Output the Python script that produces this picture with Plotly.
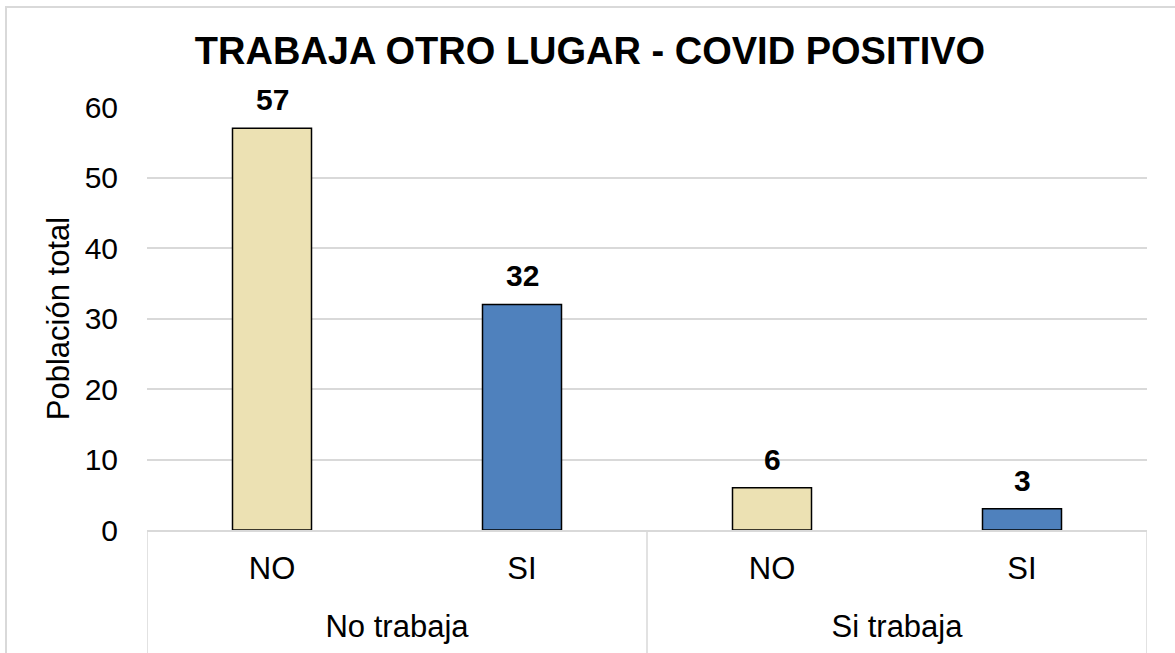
import plotly.graph_objects as go

# Datos
grupos = ["No trabaja", "No trabaja", "Si trabaja", "Si trabaja"]
covid = ["NO", "SI", "NO", "SI"]
poblacion = [57, 32, 6, 3]
colores = ["#ECE1B3", "#4F81BD", "#ECE1B3", "#4F81BD"]
y_ticks = [0, 10, 20, 30, 40, 50, 60]

FONT = "Liberation Sans, Arial, sans-serif"
GRID = "#D9D9D9"
BLACK = "#000000"

# posiciones de categoría (una por barra) y de cada grupo
pos = list(range(len(covid)))
nombres_grupo = list(dict.fromkeys(grupos))
centros_grupo = []
limites = [-0.5]
for g in nombres_grupo:
    idx = [i for i, gg in enumerate(grupos) if gg == g]
    centros_grupo.append(sum(idx) / len(idx))
    limites.append(max(idx) + 0.5)

fig = go.Figure()
fig.add_trace(go.Bar(
    x=pos,
    y=poblacion,
    marker=dict(color=colores, line=dict(color=BLACK, width=1.5)),
    width=0.316,
    showlegend=False,
    hovertext=[f"{g} - {c}" for g, c in zip(grupos, covid)],
))
# traza vacía que activa el eje secundario de grupos
fig.add_trace(go.Scatter(
    x=centros_grupo, y=[None] * len(centros_grupo),
    xaxis="x2", yaxis="y", mode="markers",
    showlegend=False, hoverinfo="skip",
))

# etiquetas de valor sobre cada barra
annotations = [
    dict(x=p, y=v, xref="x", yref="y", text=f"<b>{v}</b>", showarrow=False,
         yanchor="bottom", yshift=10,
         font=dict(family=FONT, size=30, color=BLACK))
    for p, v in zip(pos, poblacion)
]

# separadores verticales de los grupos en la zona del eje X
shapes = [
    dict(type="line", xref="x", yref="paper", x0=b, x1=b, y0=0, y1=-0.32,
         line=dict(color=GRID, width=1.5))
    for b in limites
]
# marco exterior del gráfico
shapes.append(dict(type="rect", xref="paper", yref="paper",
                   x0=-0.141, x1=1.2, y0=-0.5, y1=1.2364,
                   line=dict(color=GRID, width=2), fillcolor="rgba(0,0,0,0)", layer="below"))

rango_x = [-0.5, len(covid) - 0.5]

fig.update_layout(
    width=1175,
    height=653,
    margin=dict(l=147, r=28, t=107, b=123, autoexpand=False),
    paper_bgcolor="#FFFFFF",
    plot_bgcolor="#FFFFFF",
    font=dict(family=FONT, color=BLACK),
    title=dict(
        text="<b>TRABAJA OTRO LUGAR - COVID POSITIVO</b>",
        font=dict(family=FONT, size=38, color=BLACK),
        x=0.443, xref="paper", xanchor="center",
        y=1 - 51 / 653, yref="container", yanchor="middle",
    ),
    xaxis=dict(
        range=rango_x,
        tickvals=pos, ticktext=covid,
        showline=True, linecolor=GRID, linewidth=1.5,
        showgrid=False, zeroline=False, ticks="",
        tickfont=dict(family=FONT, size=31, color=BLACK),
        ticklabelstandoff=10, automargin=False,
    ),
    xaxis2=dict(
        overlaying="x", anchor="y", side="bottom",
        range=rango_x,
        tickvals=centros_grupo, ticktext=nombres_grupo,
        showline=False, showgrid=False, zeroline=False, ticks="",
        tickfont=dict(family=FONT, size=31, color=BLACK),
        ticklabelstandoff=75, automargin=False,
    ),
    yaxis=dict(
        range=[0, 60],
        tickvals=y_ticks,
        showgrid=True, gridcolor=GRID, gridwidth=1.5,
        zeroline=False, showline=False,
        ticks="outside", ticklen=22, tickcolor="rgba(0,0,0,0)",
        tickfont=dict(family=FONT, size=30, color=BLACK),
        title=dict(text="Población total", font=dict(family=FONT, size=31, color=BLACK), standoff=5),
        automargin=False,
    ),
    annotations=annotations,
    shapes=shapes,
)

fig.write_html("out.html")
